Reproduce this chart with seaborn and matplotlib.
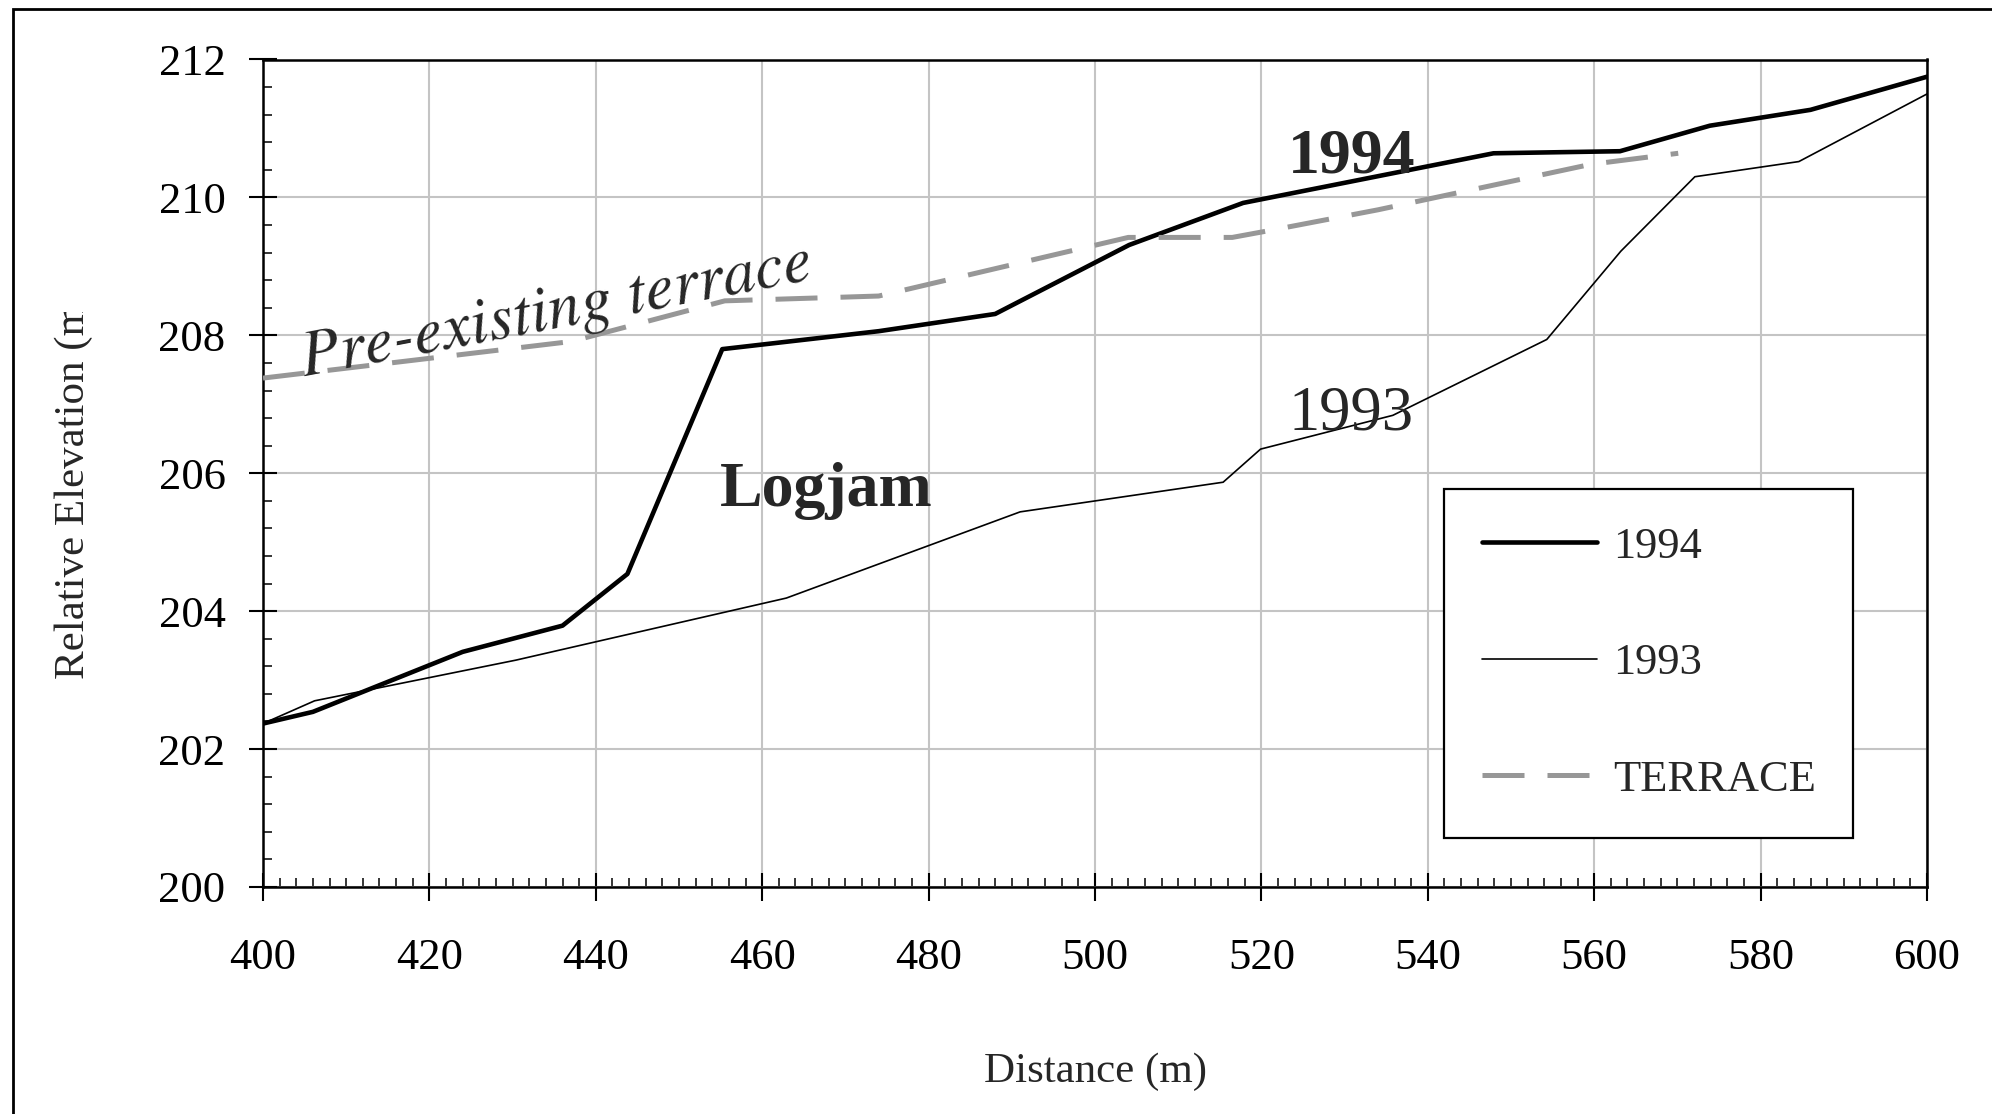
import numpy as np
import pandas as pd
import matplotlib
matplotlib.use("Agg")
import matplotlib.pyplot as plt
import seaborn as sns
from matplotlib.ticker import MultipleLocator
from matplotlib.transforms import Bbox, TransformedBbox
from matplotlib.patches import Rectangle

# ---- data ----
dist_1994 = [400, 406, 424, 436, 443.8, 455.2, 474, 488, 504.1, 517.8, 547.9, 563.1, 573.9, 586, 600]
elev_1994 = [202.37, 202.54, 203.41, 203.79, 204.54, 207.80, 208.06, 208.31, 209.31, 209.92,
             210.64, 210.67, 211.04, 211.27, 211.75]
dist_1993 = [400, 406.2, 430.4, 462.9, 491.0, 515.4, 519.9, 535.8, 554.3, 563.2, 572.1, 584.6, 600]
elev_1993 = [202.37, 202.70, 203.29, 204.19, 205.44, 205.87, 206.35, 206.84, 207.94, 209.22,
             210.30, 210.52, 211.50]
dist_terrace = [400, 437, 455.5, 474, 504, 516.5, 521, 534, 559.6, 570.1]
elev_terrace = [207.38, 207.91, 208.50, 208.57, 209.42, 209.42, 209.52, 209.82, 210.48, 210.64]

series_labels = ["1994", "1993", "TERRACE"]
x_ticks = list(range(400, 601, 20))
y_ticks = list(range(200, 213, 2))

# ---- style ----
sns.set_style("white")
plt.rcParams['font.family'] = ['Liberation Serif', 'DejaVu Serif']

W, H = 1992, 1114
fig = plt.figure(figsize=(W / 100, H / 100), dpi=100)
ax = fig.add_axes([263 / W, 1 - 887 / H, (1927 - 263) / W, (887 - 59.5) / H])

df94 = pd.DataFrame({"x": dist_1994, "y": elev_1994})
df93 = pd.DataFrame({"x": dist_1993, "y": elev_1993})
dft = pd.DataFrame({"x": dist_terrace, "y": elev_terrace})

sns.lineplot(data=df94, x="x", y="y", ax=ax, color="black", linewidth=3.3,
             label=series_labels[0], sort=False, estimator=None, zorder=3)
sns.lineplot(data=df93, x="x", y="y", ax=ax, color="black", linewidth=1.2,
             label=series_labels[1], sort=False, estimator=None, zorder=3)
sns.lineplot(data=dft, x="x", y="y", ax=ax, color="#979797", linewidth=3.6,
             label=series_labels[2], sort=False, estimator=None, zorder=4,
             linestyle=(0, (8.4, 4.6)))

ax.set_xlim(400, 600)
ax.set_ylim(200, 212)
ax.set_xticks(x_ticks)
ax.set_yticks(y_ticks)
ax.xaxis.set_minor_locator(MultipleLocator(2))
ax.yaxis.set_minor_locator(MultipleLocator(0.4))
ax.set_xlabel("")
ax.set_ylabel("")

ax.grid(True, which="major", color="#c4c4c4", linewidth=1.5, zorder=0)
ax.set_axisbelow(True)
for s in ax.spines.values():
    s.set_visible(True)
    s.set_color("black")
    s.set_linewidth(1.8)

ax.tick_params(which="major", direction="inout", length=20, width=1.5, colors="black",
               labelsize=32, bottom=True, left=True)
ax.tick_params(axis="x", which="major", pad=27)
ax.tick_params(axis="y", which="major", pad=17)
ax.tick_params(which="minor", direction="in", length=6.5, width=1.3, bottom=True, left=True)

# legend
handles, labels = ax.get_legend_handles_labels()
leg = ax.legend(handles, labels, loc="upper left", bbox_to_anchor=(0.7097, 0.481),
                borderaxespad=0, frameon=True, fancybox=False, shadow=False,
                edgecolor="black", framealpha=1, facecolor="white", fontsize=32,
                borderpad=0.85, labelspacing=1.72, handlelength=2.6, handletextpad=0.35)
leg.get_frame().set_linewidth(1.6)

# annotations
ax.text(405.0, 207.40, "Pre-existing terrace", rotation=10.8, rotation_mode="anchor",
        ha="left", va="baseline", fontsize=46.5, style="italic",
        family=["STIXGeneral", "Liberation Serif"], zorder=5)
ax.text(454.9, 205.52, "Logjam", ha="left", va="baseline", fontsize=46,
        fontweight="bold", zorder=5)
ax.text(523.2, 210.36, "1994", ha="left", va="baseline", fontsize=46,
        fontweight="bold", zorder=5)
ax.text(523.3, 206.63, "1993", ha="left", va="baseline", fontsize=45, zorder=5)

# axis titles
fig.text(1095.5 / W, 1 - 1082 / H, "Distance (m)", ha="center", va="baseline", fontsize=31)
yl = fig.text(74 / W, 1 - 483 / H, "Relative Elevation (m)", rotation=90,
              ha="center", va="center", fontsize=31)
yl.set_clip_box(TransformedBbox(Bbox([[0, 0], [1, 1 - 312 / H]]), fig.transFigure))
yl.set_clip_on(True)

# chart-area border (cut by the image edges at right and bottom)
top = 1 - 9 / H
fig.patches.append(Rectangle((12.5 / W, -0.2), 1.5, top + 0.2,
                             transform=fig.transFigure, fill=False,
                             edgecolor="black", linewidth=2.0))

fig.savefig("out.png", dpi=100)
